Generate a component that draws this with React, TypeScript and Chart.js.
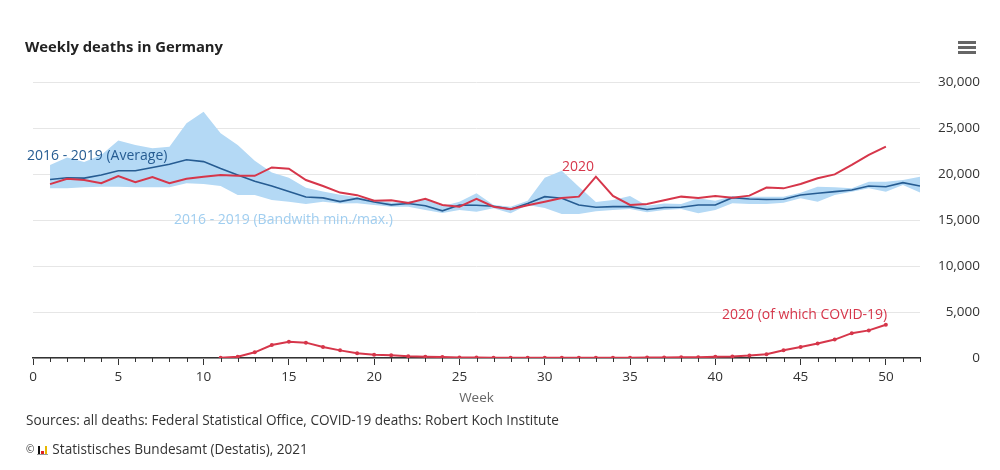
import React, { useEffect, useRef } from "react";
import { Chart, registerables } from "chart.js";

Chart.register(...registerables);

const FONT = "'Open Sans', 'Noto Sans', sans-serif";

const weeks = [
  1, 2, 3, 4, 5, 6, 7, 8, 9, 10, 11, 12, 13, 14, 15, 16, 17, 18, 19, 20, 21, 22, 23, 24, 25, 26,
  27, 28, 29, 30, 31, 32, 33, 34, 35, 36, 37, 38, 39, 40, 41, 42, 43, 44, 45, 46, 47, 48, 49, 50, 51, 52,
];

const avg2016to2019 = [
  19400, 19600, 19550, 19900, 20350, 20350, 20700, 21050, 21550, 21350, 20600, 19900, 19200,
  18700, 18100, 17500, 17400, 17000, 17350, 16950, 16650, 16800, 16550, 16000, 16630, 16600,
  16500, 16180, 16800, 17540, 17360, 16630, 16380, 16450, 16450, 16150, 16360, 16380, 16630,
  16630, 17430, 17280, 17230, 17250, 17720, 17900, 18080, 18260, 18700, 18620, 19060, 18700,
];

const max2016to2019 = [
  20980, 21800, 21300, 22070, 23650, 23150, 22790, 22970, 25510, 26770, 24420, 23150, 21450,
  20150, 19600, 18500, 18100, 17750, 17500, 17200, 16900, 17000, 17300, 16500, 16990, 17900,
  16630, 16450, 17100, 19580, 20350, 18620, 16950, 17180, 17610, 16550, 16800, 16740, 17360,
  17100, 17610, 17540, 17540, 17540, 17970, 18620, 18550, 18440, 19170, 19170, 19350, 19710,
];

const min2016to2019 = [
  18440, 18440, 18550, 18620, 18620, 18550, 18550, 18550, 18990, 18910, 18700, 17720, 17720,
  17180, 16990, 16740, 16990, 16800, 16810, 16630, 16450, 16450, 16100, 15750, 16090, 15910,
  16270, 15730, 16630, 16300, 15650, 15650, 15950, 16090, 16200, 15840, 16090, 16200, 15730,
  16090, 16810, 16740, 16740, 16880, 17360, 16990, 17720, 18080, 18440, 18080, 18800, 18000,
];

const weeks2020 = weeks.slice(0, 50);
const deaths2020 = [
  18900, 19490, 19350, 18990, 19780, 19100, 19670, 18990, 19490, 19710, 19890, 19820, 19800,
  20710, 20580, 19350, 18700, 17980, 17700, 17100, 17150, 16850, 17300, 16630, 16450, 17300,
  16450, 16180, 16600, 16990, 17400, 17540, 19710, 17610, 16630, 16740, 17150, 17540, 17390,
  17610, 17430, 17650, 18530, 18440, 18910, 19530, 19960, 20980, 22070, 22970,
];

const covidWeeks = weeks.slice(10, 50);
const covid2020 = [
  30, 140, 620, 1410, 1770, 1670, 1200, 830, 510, 360, 290, 180, 130, 100, 60, 50, 40, 40, 40,
  40, 40, 40, 40, 40, 40, 50, 60, 70, 90, 130, 160, 260, 420, 850, 1200, 1580, 2000, 2700, 3000,
  3620,
];

const xMin = 0;
const xMax = 52;
const yMax = 30000;
const yStep = 5000;

const RED = "rgb(214,54,74)";
const DARKBLUE = "rgb(38,92,146)";
const BAND = "rgb(180,217,245)";

const toPoints = (xs: number[], ys: number[]) => xs.map((x, i) => ({ x, y: ys[i] }));

const minorTicks = {
  id: "minorTicks",
  afterDraw(chart: any) {
    const sx = chart.scales.x;
    const ctx = chart.ctx;
    const y0 = chart.chartArea.bottom;
    ctx.save();
    ctx.strokeStyle = "#333";
    ctx.lineWidth = 1;
    for (let w = xMin; w <= xMax; w++) {
      if (w % 5 === 0) continue;
      const px = Math.round(sx.getPixelForValue(w)) + 0.5;
      ctx.beginPath();
      ctx.moveTo(px, y0);
      ctx.lineTo(px, y0 + 4);
      ctx.stroke();
    }
    ctx.restore();
  },
};

export default function App() {
  const ref = useRef<HTMLCanvasElement>(null);

  useEffect(() => {
    Chart.defaults.font.family = FONT;
    const chart = new Chart(ref.current as HTMLCanvasElement, {
      type: "line",
      data: {
        datasets: [
          {
            label: "2020",
            data: toPoints(weeks2020, deaths2020),
            borderColor: RED,
            borderWidth: 2,
            pointRadius: 0,
            fill: false,
            order: 0,
          },
          {
            label: "2020 (of which COVID-19)",
            data: toPoints(covidWeeks, covid2020),
            borderColor: RED,
            backgroundColor: RED,
            borderWidth: 2,
            pointRadius: 2,
            pointBorderWidth: 0,
            pointBackgroundColor: RED,
            fill: false,
            order: 0,
          },
          {
            label: "2016 - 2019 (Average)",
            data: toPoints(weeks, avg2016to2019),
            borderColor: DARKBLUE,
            borderWidth: 1.6,
            pointRadius: 0,
            fill: false,
            order: 1,
          },
          {
            label: "max",
            data: toPoints(weeks, max2016to2019),
            borderWidth: 0,
            borderColor: "rgba(0,0,0,0)",
            backgroundColor: BAND,
            pointRadius: 0,
            fill: "+1",
            order: 2,
          },
          {
            label: "min",
            data: toPoints(weeks, min2016to2019),
            borderWidth: 0,
            borderColor: "rgba(0,0,0,0)",
            backgroundColor: BAND,
            pointRadius: 0,
            fill: false,
            order: 3,
          },
        ],
      },
      options: {
        responsive: false,
        animation: false,
        layout: { padding: { left: 33, top: 82, right: 20, bottom: 56 } },
        plugins: {
          legend: { display: false },
          tooltip: { enabled: false },
          title: { display: false },
        },
        elements: { line: { tension: 0 } },
        scales: {
          x: {
            type: "linear",
            min: xMin,
            max: xMax,
            afterFit: (s: any) => {
              s.height = 56;
            },
            ticks: {
              stepSize: 1,
              autoSkip: false,
              maxRotation: 0,
              padding: 4,
              color: "#333",
              font: { size: 13.5, family: FONT },
              callback: (v: any) => (Number(v) % 5 === 0 ? String(v) : ""),
            },
            grid: {
              drawOnChartArea: false,
              drawTicks: true,
              tickLength: 7,
              tickWidth: 1,
              tickColor: (c: any) =>
                c.tick && c.tick.value % 5 === 0 ? "#333" : "rgba(0,0,0,0)",
            },
            border: { display: true, color: "#333", width: 1.5 },
            title: {
              display: true,
              text: "Week",
              color: "#666",
              font: { size: 13.5, family: FONT },
              padding: { top: 0, bottom: 8 },
            },
          },
          y: {
            position: "right",
            min: 0,
            max: yMax,
            afterFit: (s: any) => {
              s.width = 60;
            },
            ticks: {
              stepSize: yStep,
              crossAlign: "far",
              padding: 16,
              color: "#333",
              font: { size: 13.5, family: FONT },
              callback: (v: any) => Number(v).toLocaleString("en-US"),
            },
            grid: { color: "#e6e6e6", drawTicks: false, lineWidth: 1 },
            border: { display: false },
          },
        },
      },
      plugins: [minorTicks],
    });
    return () => chart.destroy();
  }, []);

  const abs = (left: number, centerY: number, extra: React.CSSProperties = {}): React.CSSProperties => ({
    position: "absolute",
    left,
    top: centerY - 10,
    height: 20,
    lineHeight: "20px",
    whiteSpace: "nowrap",
    fontFamily: FONT,
    ...extra,
  });

  return (
    <div
      style={{
        position: "fixed",
        left: 0,
        top: 0,
        width: 1000,
        height: 470,
        background: "#fff",
        overflow: "hidden",
        fontFamily: FONT,
      }}
    >
      <canvas ref={ref} width={1000} height={470} style={{ position: "absolute", left: 0, top: 0 }} />
      <div style={abs(25, 46, { fontSize: 14.8, fontWeight: 700, color: "#222" })}>
        Weekly deaths in Germany
      </div>
      <div style={{ position: "absolute", left: 958, top: 41, width: 18 }}>
        <div style={{ height: 3, background: "#666", marginBottom: 2 }} />
        <div style={{ height: 3, background: "#666", marginBottom: 2 }} />
        <div style={{ height: 3, background: "#666" }} />
      </div>
      <div style={abs(27, 155, { fontSize: 14, color: DARKBLUE })}>2016 - 2019 (Average)</div>
      <div style={abs(174, 219, { fontSize: 14, color: "rgb(160,206,240)" })}>
        2016 - 2019 (Bandwith min./max.)
      </div>
      <div style={abs(562, 166, { fontSize: 14, color: RED })}>2020</div>
      <div style={abs(722, 314, { fontSize: 14, color: RED })}>2020 (of which COVID-19)</div>
      <div style={abs(26, 420, { fontSize: 13.6, color: "#333" })}>
        Sources: all deaths: Federal Statistical Office, COVID-19 deaths: Robert Koch Institute
      </div>
      <div style={abs(26, 449, { fontSize: 13.6, color: "#333", display: "flex", alignItems: "center" })}>
        <span style={{ fontSize: 10, marginRight: 3 }}>©</span>
        <span
          style={{
            display: "inline-flex",
            alignItems: "flex-end",
            height: 10,
            borderBottom: "1px solid #999",
            marginRight: 4,
            gap: 1,
            padding: "0 1px",
          }}
        >
          <span style={{ width: 2, height: 8, background: "#111" }} />
          <span style={{ width: 3, height: 3, background: "#d22" }} />
          <span style={{ width: 2, height: 8, background: "#e8b800" }} />
        </span>
        Statistisches Bundesamt (Destatis), 2021
      </div>
    </div>
  );
}
